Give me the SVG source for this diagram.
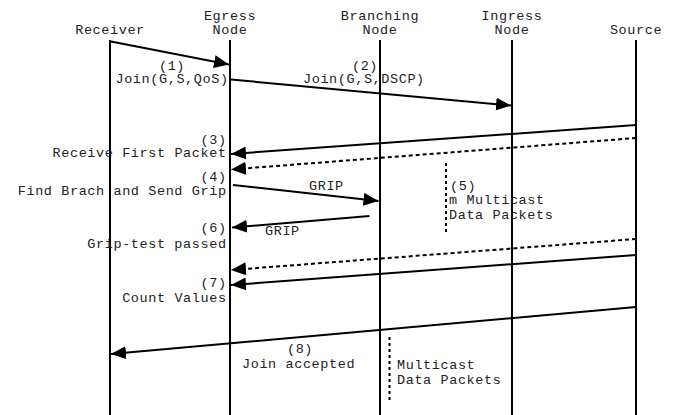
<svg xmlns="http://www.w3.org/2000/svg" width="673" height="415" viewBox="0 0 673 415">
<defs>
<marker id="ah" markerUnits="userSpaceOnUse" markerWidth="16" markerHeight="14" refX="15" refY="6.5" orient="auto">
<path d="M0,0 L15,6.5 L0,13 z" fill="#000"/>
</marker>
<style>
text{font-family:"Liberation Mono","Courier New",monospace;font-size:13.5px;letter-spacing:0.6px;fill:#222}
.m{text-anchor:middle}
.r{text-anchor:end}
.life{stroke:#000;stroke-width:2}
.msg{stroke:#000;stroke-width:2;fill:none}
.arr{marker-end:url(#ah)}
.dash{stroke-dasharray:4,3}
.vd{stroke:#000;stroke-width:2;stroke-dasharray:3,3}
</style>
</defs>
<rect width="673" height="415" fill="#fff"/>
<g id="receiver">
<text class="m" x="110" y="34">Receiver</text>
<line class="life" x1="110" y1="40" x2="110" y2="415"/>
</g>
<g id="egress">
<text class="m" x="230" y="20">Egress</text>
<text class="m" x="230" y="34">Node</text>
<line class="life" x1="230" y1="40" x2="230" y2="415"/>
</g>
<g id="branching">
<text class="m" x="380" y="20">Branching</text>
<text class="m" x="380" y="34">Node</text>
<line class="life" x1="380" y1="40" x2="380" y2="415"/>
</g>
<g id="ingress">
<text class="m" x="512" y="20">Ingress</text>
<text class="m" x="512" y="34">Node</text>
<line class="life" x1="512" y1="40" x2="512" y2="415"/>
</g>
<g id="source">
<text class="m" x="636" y="34">Source</text>
<line class="life" x1="636" y1="40" x2="636" y2="415"/>
</g>
<g id="connectors">
<line class="msg arr" x1="111" y1="41.5" x2="229" y2="64.5"/>
<line class="msg arr" x1="231" y1="79.5" x2="511" y2="105.5"/>
<line class="msg arr" x1="636" y1="125" x2="231" y2="154"/>
<line class="msg arr dash" x1="636" y1="138" x2="231" y2="169.5"/>
<line class="msg arr" x1="233" y1="185" x2="378.5" y2="201"/>
<line class="msg arr" x1="369.5" y1="216" x2="232" y2="227.5"/>
<line class="msg arr dash" x1="636" y1="239" x2="231" y2="270"/>
<line class="msg arr" x1="636" y1="255" x2="231" y2="285"/>
<line class="msg arr" x1="636" y1="307" x2="111" y2="354"/>
<line class="vd" x1="446" y1="163" x2="446" y2="235"/>
<line class="vd" x1="389.5" y1="337" x2="389.5" y2="401"/>
</g>
<g id="labels">
<text class="m" x="172" y="69.5">(1)</text>
<text class="r" x="228.6" y="83">Join(G,S,QoS)</text>
<text class="m" x="365" y="69.5">(2)</text>
<text x="303" y="83">Join(G,S,DSCP)</text>
<text class="r" x="226.6" y="143.5">(3)</text>
<text class="r" x="226.6" y="157">Receive First Packet</text>
<text class="r" x="226.6" y="181">(4)</text>
<text class="r" x="226.6" y="195">Find Brach and Send Grip</text>
<text x="309" y="190">GRIP</text>
<text x="265" y="235">GRIP</text>
<text class="r" x="226.6" y="231.5">(6)</text>
<text class="r" x="226.6" y="248">Grip-test passed</text>
<text x="450" y="190">(5)</text>
<text x="449" y="204">m Multicast</text>
<text x="449" y="219">Data Packets</text>
<text class="r" x="226.6" y="286.5">(7)</text>
<text class="r" x="226.6" y="301.5">Count Values</text>
<text class="m" x="300" y="353">(8)</text>
<text x="242" y="367.5">Join accepted</text>
<text x="397" y="369">Multicast</text>
<text x="397" y="384">Data Packets</text>
</g>
</svg>
